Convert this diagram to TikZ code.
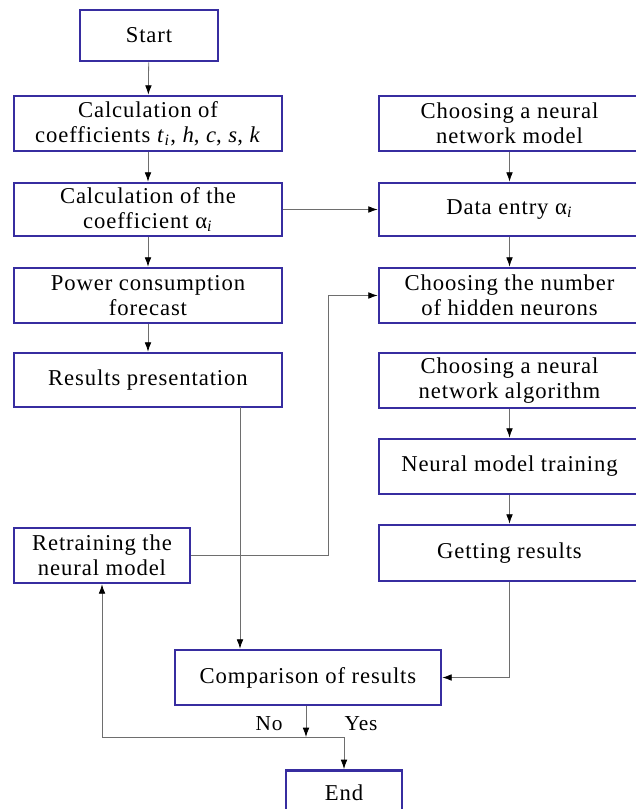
\documentclass[tikz,border=0pt]{standalone}
\usepackage{fontspec}
\setmainfont{Liberation Serif}[LetterSpace=4]
\usetikzlibrary{arrows.meta}

\definecolor{boxblue}{RGB}{55,45,160}
\definecolor{linegray}{RGB}{110,110,110}

\tikzset{
  block/.style={draw=boxblue, line width=2pt, fill=white, inner sep=0pt,
    align=center, font=\fontsize{17}{18.75}\selectfont},
  arr/.style={draw=linegray, line width=0.6pt, -{Latex[length=7pt,width=5pt,black]}},
  lab/.style={font=\fontsize{16}{18}\selectfont}
}

\begin{document}
\begin{tikzpicture}[x=0.75pt,y=-0.75pt]
\useasboundingbox (0,0) rectangle (635,809);
% left column
\node[block, minimum width=138*0.75pt, minimum height=51*0.75pt] (start) at (149,35.5) {Start};
\node[block, minimum width=268*0.75pt, minimum height=55*0.75pt] (coeff) at (148,123.5) {Calculation of\\coefficients \textit{t}\textsubscript{\textit{i}}, \textit{h}, \textit{c}, \textit{s}, \textit{k}};
\node[block, minimum width=268*0.75pt, minimum height=53*0.75pt] (alpha) at (148,209.5) {Calculation of the\\coefficient α\textsubscript{\textit{i}}};
\node[block, minimum width=268*0.75pt, minimum height=55*0.75pt] (forecast) at (148,295.5) {Power consumption\\forecast};
\node[block, minimum width=268*0.75pt, minimum height=54*0.75pt] (present) at (148,380) {Results presentation};
\node[block, minimum width=176*0.75pt, minimum height=55*0.75pt] (retrain) at (102,555.5) {Retraining the\\neural model};
% right column
\node[block, minimum width=261*0.75pt, minimum height=55*0.75pt] (model) at (509.5,123.5) {Choosing a neural\\network model};
\node[block, minimum width=261*0.75pt, minimum height=53*0.75pt] (entry) at (509.5,209.5) {Data entry α\textsubscript{\textit{i}}};
\node[block, minimum width=261*0.75pt, minimum height=55*0.75pt] (hidden) at (509.5,295.5) {Choosing the number\\of hidden neurons};
\node[block, minimum width=261*0.75pt, minimum height=55*0.75pt] (algo) at (509.5,380.5) {Choosing a neural\\network algorithm};
\node[block, minimum width=261*0.75pt, minimum height=55*0.75pt] (train) at (509.5,466.5) {Neural model training};
\node[block, minimum width=261*0.75pt, minimum height=56*0.75pt] (getres) at (509.5,553) {Getting results};
% bottom
\node[block, minimum width=266*0.75pt, minimum height=55*0.75pt] (compare) at (308,677.5) {Comparison of results};
\node[block, minimum width=116*0.75pt, minimum height=45*0.75pt, anchor=north] (theend) at (344,769) {End};

\coordinate (pres) at (240,407);
\coordinate (bend) at (328,555.5);
\coordinate (split) at (306,737);

% connectors
\draw[arr] (start) -- (coeff);
\draw[arr] (coeff) -- (alpha);
\draw[arr] (alpha) -- (forecast);
\draw[arr] (forecast) -- (present);
\draw[arr] (alpha) -- (entry);
\draw[arr] (model) -- (entry);
\draw[arr] (entry) -- (hidden);
\draw[arr] (algo) -- (train);
\draw[arr] (train) -- (getres);
\draw[arr] (getres.south) |- (compare.east);
\draw[arr] (pres) -- (pres |- compare.north);
\draw[arr] (retrain.east) -- (bend) |- (hidden.west);
\draw[arr] (compare.south -| split) -- (split);
\draw[arr] (split) -| (theend.north);
\draw[arr] (split) -| (retrain.south);

\node[lab] (no) at (269,724) {No};
\node[lab] (yes) at (361,724) {Yes};
\end{tikzpicture}
\end{document}
